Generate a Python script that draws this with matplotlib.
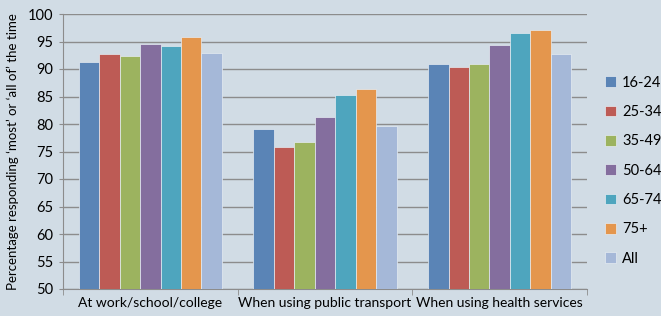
import numpy as np
import matplotlib.pyplot as plt

# data
categories = ["At work/school/college", "When using public transport", "When using health services"]
age_groups = ["16-24", "25-34", "35-49", "50-64", "65-74", "75+", "All"]
values = {
    "16-24": [91.2, 79.1, 91.0],
    "25-34": [92.8, 75.8, 90.4],
    "35-49": [92.4, 76.8, 91.0],
    "50-64": [94.5, 81.2, 94.3],
    "65-74": [94.1, 85.3, 96.5],
    "75+":   [95.9, 86.3, 97.1],
    "All":   [92.9, 79.7, 92.8],
}
colors = ["#5A84B6", "#BD5B55", "#9CB35F", "#846E9E", "#4EA5BE", "#E4964D", "#A5B8D8"]

plt.rcParams['font.family'] = ['Lato', 'DejaVu Sans']
bg = "#D1DCE5"

fig = plt.figure(figsize=(6.61, 3.16), dpi=100, facecolor=bg)
ax = fig.add_axes([63/661, 1 - 289/316, (587 - 63)/661, (289 - 14)/316])
ax.set_facecolor(bg)

x = np.arange(len(categories))
n = len(age_groups)
width = 0.82 / n
for i, (grp, col) in enumerate(zip(age_groups, colors)):
    offs = (i - (n - 1) / 2) * width
    ax.bar(x + offs, np.array(values[grp]) - 50, width=width, bottom=50, color=col,
           edgecolor="#E6ECF2", linewidth=0.5, label=grp, zorder=3)

ax.set_ylim(50, 100)
ax.set_xlim(-0.5, 2.5)
ax.set_yticks(range(50, 101, 5))
ax.tick_params(axis='y', length=3, color="#8C8C8C", labelsize=10.5, pad=4)
ax.grid(axis='y', color="#8C8C8C", linewidth=1.0, zorder=0)

ax.set_xticks(x)
ax.set_xticklabels(categories)
ax.set_xticks([-0.5, 0.5, 1.5, 2.5], minor=True)
ax.tick_params(axis='x', which='major', length=0, labelsize=10, pad=6)
ax.tick_params(axis='x', which='minor', length=4, color="#8C8C8C")

for s in ['top', 'right']:
    ax.spines[s].set_visible(False)
for s in ['left', 'bottom']:
    ax.spines[s].set_color("#8C8C8C")

ax.set_ylabel("Percentage responding \u2018most\u2019 or \u2018all of\u2019 the time", fontsize=9.5, labelpad=6)

ax.legend(loc='center left', bbox_to_anchor=(1.01, 0.43), frameon=False, fontsize=10.5,
          handlelength=0.75, handleheight=0.75, handletextpad=0.4, labelspacing=1.05)

fig.savefig("out.png", dpi=100, facecolor=bg)
